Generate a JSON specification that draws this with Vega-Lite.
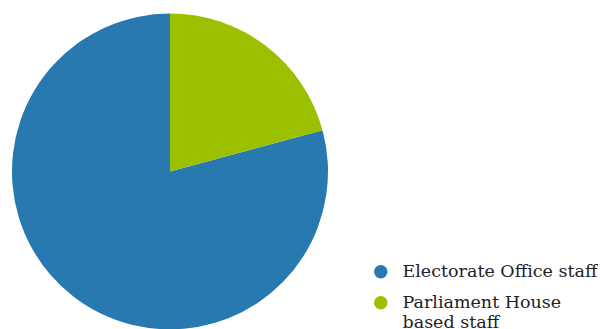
{
  "$schema": "https://vega.github.io/schema/vega-lite/v6.json",
  "width": 340,
  "height": 343,
  "padding": 0,
  "background": "white",
  "config": {"view": {"stroke": null}, "style": {"guide-label": {"lineHeight": 20}}},
  "data": {"values": [
    {"category": "Electorate Office staff", "value": 79.2, "ord": 2},
    {"category": "Parliament House based staff", "value": 20.8, "ord": 1}
  ]},
  "mark": {"type": "arc", "outerRadius": 158},
  "encoding": {
    "theta": {"field": "value", "type": "quantitative", "stack": true},
    "order": {"field": "ord", "type": "quantitative"},
    "color": {
      "field": "category",
      "type": "nominal",
      "scale": {"domain": ["Electorate Office staff", "Parliament House based staff"], "range": ["#2779b0", "#9bc000"]},
      "legend": {
        "title": null,
        "orient": "none",
        "legendX": 372,
        "legendY": 263,
        "symbolType": "circle",
        "symbolSize": 180,
        "symbolOpacity": 1,
        "symbolStrokeWidth": 0,
        "labelFont": "DejaVu Serif",
        "labelFontSize": 17.5,
        "labelColor": "#222222",
        "labelOffset": 13,
        "rowPadding": 12,
        "labelLimit": 300,
        "labelExpr": "datum.label == 'Parliament House based staff' ? ['Parliament House', 'based staff'] : datum.label"
      }
    }
  }
}
